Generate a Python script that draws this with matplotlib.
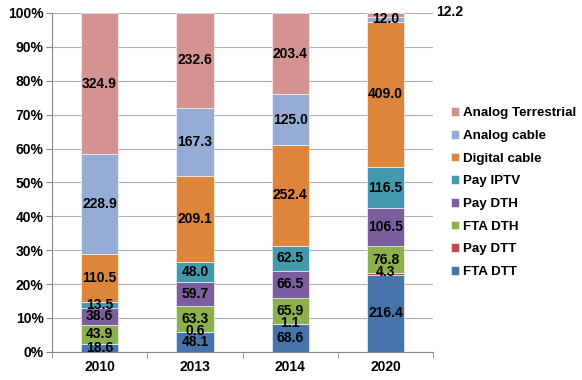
import matplotlib.pyplot as plt
import numpy as np

plt.rcParams['font.family'] = ['Liberation Sans', 'DejaVu Sans']
plt.rcParams['font.weight'] = 'bold'

years = ["2010", "2013", "2014", "2020"]
series = ["FTA DTT", "Pay DTT", "FTA DTH", "Pay DTH", "Pay IPTV",
          "Digital cable", "Analog cable", "Analog Terrestrial"]
fta_dtt = [18.6, 48.1, 68.6, 216.4]
pay_dtt = [0.0, 0.6, 1.1, 4.3]
fta_dth = [43.9, 63.3, 65.9, 76.8]
pay_dth = [38.6, 59.7, 66.5, 106.5]
pay_iptv = [13.5, 48.0, 62.5, 116.5]
digital_cable = [110.5, 209.1, 252.4, 409.0]
analog_cable = [228.9, 167.3, 125.0, 12.0]
analog_terr = [324.9, 232.6, 203.4, 12.2]
colors = ["#4674AB", "#BE4B48", "#8CB04B", "#7B5E9E", "#4299B0",
          "#DD853B", "#95ADD5", "#D49391"]

data = np.array([fta_dtt, pay_dtt, fta_dth, pay_dth, pay_iptv,
                 digital_cable, analog_cable, analog_terr])
totals = data.sum(axis=0)
pct = data / totals * 100

fs = 10
fig = plt.figure(figsize=(5.82, 3.80), dpi=100)
ax = fig.add_axes([0.0893, 0.074, 0.655, 0.892])
x = np.arange(len(years))

bottom = np.zeros(len(years))
for i, name in enumerate(series):
    ax.bar(x, pct[i], 0.39, bottom=bottom, color=colors[i], label=name,
           edgecolor='white', linewidth=0.4, zorder=2)
    for j in range(len(years)):
        v = data[i, j]
        if v == 0:
            continue
        if i == 7 and j == 3:
            # small top slice labelled outside the plot
            ax.text(3.53, 100.3, f"{v:.1f}", ha='left', va='center',
                    fontsize=fs, fontweight='bold', clip_on=False)
            continue
        yc = bottom[j] + pct[i, j] / 2
        if i == 1:
            yc = bottom[j] + pct[i, j] + 0.3
        ax.text(x[j], yc, f"{v:.1f}", ha='center', va='center',
                fontsize=fs, fontweight='bold', zorder=3)
    bottom += pct[i]

ax.set_ylim(0, 100)
ax.set_xlim(-0.5, 3.5)
ax.set_yticks(np.arange(0, 101, 10))
ax.set_yticklabels([f"{t}%" for t in range(0, 101, 10)], fontsize=fs,
                   fontweight='bold')
ax.set_xticks(x)
ax.set_xticklabels(years, fontsize=fs, fontweight='bold')
ax.set_xticks(np.arange(-0.5, 4, 1), minor=True)
ax.tick_params(axis='x', which='major', length=0, pad=6)
ax.tick_params(axis='x', which='minor', length=4, color='#888888')
ax.tick_params(axis='y', length=4, color='#888888', pad=2)
ax.yaxis.grid(True, color='#B0B0B0', linewidth=0.8, zorder=0)
ax.set_axisbelow(True)
for s in ['top', 'right']:
    ax.spines[s].set_visible(False)
for s in ['left', 'bottom']:
    ax.spines[s].set_color('#888888')

handles, labels = ax.get_legend_handles_labels()
fig.legend(handles[::-1], labels[::-1], loc='center left',
           bbox_to_anchor=(0.755, 0.493), frameon=False, fontsize=9.6,
           handlelength=0.6, handleheight=0.6, handletextpad=0.3,
           labelspacing=0.8)

fig.savefig("out.png", dpi=100)
